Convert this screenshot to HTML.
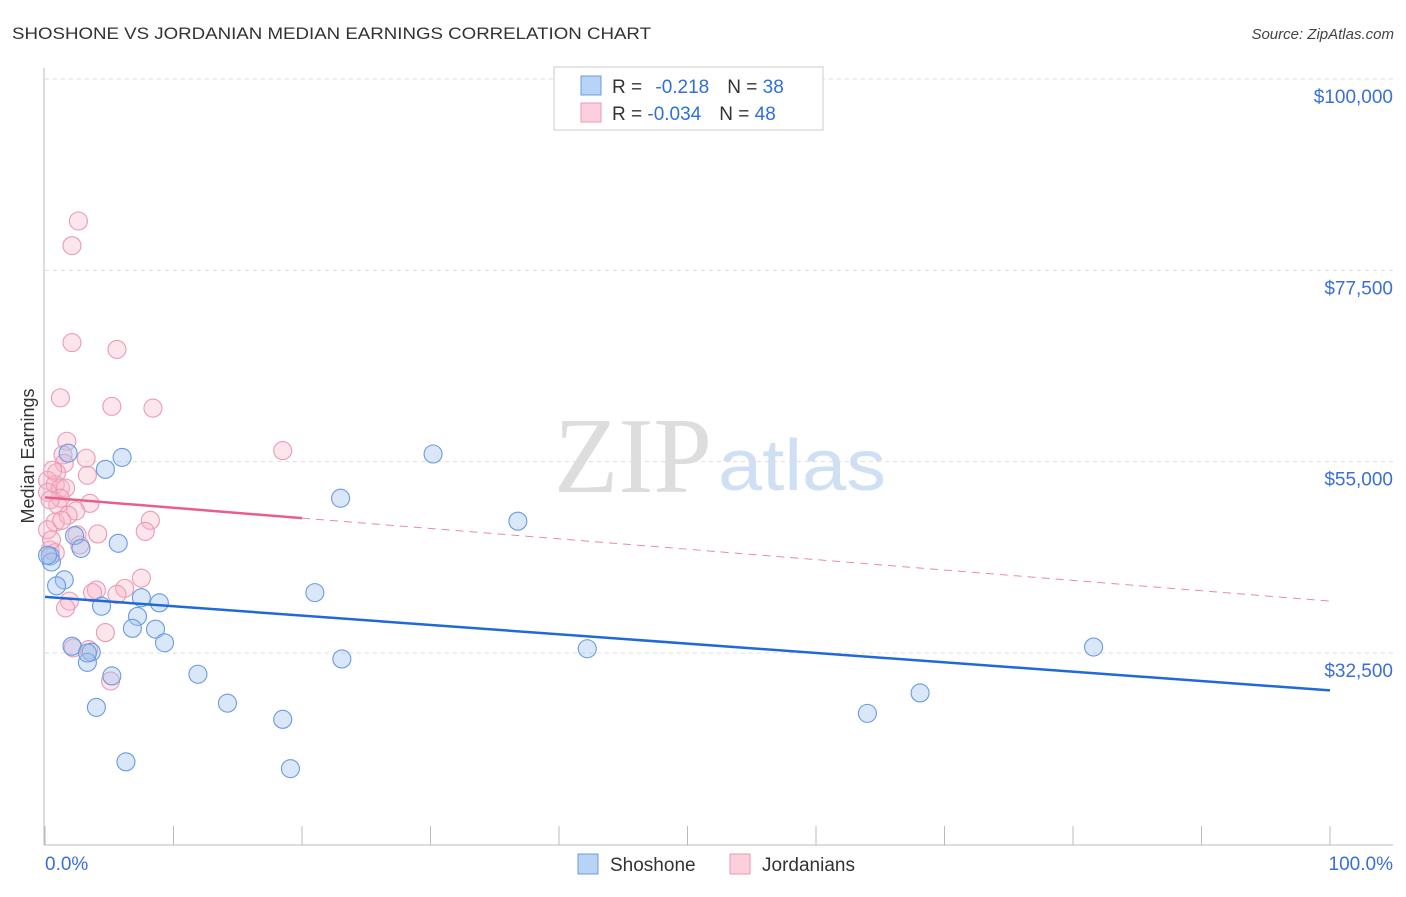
<!DOCTYPE html>
<html><head><meta charset="utf-8"><style>
body{margin:0;background:#fff;font-family:"Liberation Sans",sans-serif;}
svg text{font-family:"Liberation Sans",sans-serif;}
</style></head><body>
<svg id="chart" width="1406" height="892">
<text x="12" y="39" font-size="17" fill="#333" textLength="639" lengthAdjust="spacingAndGlyphs">SHOSHONE VS JORDANIAN MEDIAN EARNINGS CORRELATION CHART</text>
<text x="1394" y="39" font-size="15" fill="#444" text-anchor="end" font-style="italic">Source: ZipAtlas.com</text>
<text x="554" y="492" font-size="108" fill="#ddd" textLength="158" lengthAdjust="spacingAndGlyphs" style="font-family:'Liberation Serif',serif">ZIP</text>
<text x="718" y="490" font-size="72" fill="#cfe0f5" textLength="168" lengthAdjust="spacingAndGlyphs">atlas</text>
<text transform="translate(34,456) rotate(-90)" font-size="18" fill="#333" text-anchor="middle">Median Earnings</text>
<g id="grid"></g><g id="axes"></g><g id="pts"></g><g id="trends"></g>
<g>
<rect x="554" y="67" width="269" height="63" fill="#fff" stroke="#ccc"/>
<rect x="581" y="76" width="20" height="19" fill="#b8d3f5" stroke="#6a9be0"/>
<rect x="581" y="103" width="20" height="19" fill="#fbd0dc" stroke="#ec98b2"/>
<text x="612" y="93" font-size="19" fill="#333">R = <tspan fill="#2f6fdc" dx="8">-0.218</tspan><tspan fill="#333" dx="18">N = </tspan><tspan fill="#2f6fdc">38</tspan></text>
<text x="612" y="120" font-size="19" fill="#333">R = <tspan fill="#2f6fdc">-0.034</tspan><tspan fill="#333" dx="18">N = </tspan><tspan fill="#2f6fdc">48</tspan></text>
</g>
<g>
<rect x="578" y="854" width="20" height="20" fill="#b8d3f5" stroke="#6a9be0"/>
<text x="610" y="871" font-size="19" fill="#333">Shoshone</text>
<rect x="730" y="854" width="20" height="20" fill="#fbd0dc" stroke="#ec98b2"/>
<text x="762" y="871" font-size="19" fill="#333">Jordanians</text>
</g>
</svg>
<script>
const yTicks=[100000,77500,55000,32500];
const yTickLabels=["$100,000","$77,500","$55,000","$32,500"];
const xTickLabels=["0.0%","100.0%"];
const shoX=[1.8,6.0,4.7,30.2,23.0,36.8,2.3,5.7,2.8,0.4,0.5,1.5,0.9,4.4,7.5,8.9,7.2,6.8,8.6,9.3,2.1,3.6,3.3,5.2,11.9,21.0,23.1,42.2,81.6,14.2,4.0,18.5,64.0,68.1,6.3,19.1,0.2,3.3];
const shoY=[56.0,55.5,54.1,55.9,50.7,48.0,46.3,45.4,44.8,43.9,43.2,41.1,40.4,38.0,39.0,38.4,36.8,35.4,35.3,33.7,33.3,32.6,31.4,29.8,30.0,39.6,31.8,33.0,33.2,26.6,26.1,24.7,25.4,27.8,19.7,18.9,44.0,32.5];
const jorX=[2.6,2.1,2.1,5.6,1.2,5.2,8.4,1.7,18.5,1.4,3.2,1.5,0.9,3.3,0.2,0.8,1.2,0.2,1.6,3.5,1.0,2.4,0.8,8.2,7.8,4.1,2.5,0.4,0.8,4.0,3.7,6.2,5.6,7.5,1.9,1.6,4.7,2.2,3.4,5.1,0.2,0.5,1.2,1.8,2.7,0.4,0.6,1.3];
const jorY=[83.3,80.4,69.0,68.2,62.5,61.5,61.3,57.4,56.3,55.8,55.4,54.8,53.7,53.4,52.8,52.3,51.9,51.4,51.9,50.1,49.9,49.2,47.9,48.1,46.8,46.5,46.4,44.6,44.3,39.9,39.6,40.1,39.4,41.3,38.6,37.8,34.9,33.1,32.9,29.2,47.0,45.8,50.7,48.7,45.2,50.5,54.0,48.1];
const shoTrend=[39.1,28.1];
const jorTrend=[50.8,38.6];
const NS="http://www.w3.org/2000/svg";
const X=v=>45+v/100*1285;
const Y=v=>79+(100-v)/22.5*191.33;
function mk(tag,attrs,parent){const e=document.createElementNS(NS,tag);for(const k in attrs)e.setAttribute(k,attrs[k]);document.getElementById(parent).appendChild(e);return e;}
yTicks.forEach((t,i)=>{
 const g=mk('line',{x1:45,x2:1393,y1:Y(t/1000),y2:Y(t/1000),stroke:'#ddd','stroke-dasharray':'4,4'},'grid');
 
 
 const l=mk('text',{x:1393,y:Y(t/1000)+24,'font-size':19,fill:'#3a6fd8','text-anchor':'end'},'grid');
 l.textContent=yTickLabels[i];
 
 
});
mk('line',{x1:44,x2:44,y1:68,y2:845,stroke:'#bbb'},'axes');
mk('line',{x1:44,x2:1393,y1:845,y2:845,stroke:'#bbb'},'axes');
for(let i=0;i<=10;i++){mk('line',{x1:X(i*10),x2:X(i*10),y1:826,y2:845,stroke:'#bbb'},'axes');}
const xl0=mk('text',{x:45,y:870,'font-size':19,fill:'#3a6fd8'},'axes');xl0.textContent=xTickLabels[0];


const xl1=mk('text',{x:1393,y:870,'font-size':19,fill:'#3a6fd8','text-anchor':'end'},'axes');xl1.textContent=xTickLabels[1];


jorX.forEach((x,i)=>{const c=mk('circle',{cx:X(x),cy:Y(jorY[i]),r:9,fill:'rgba(248,180,200,0.35)',stroke:'#eb9ab4','stroke-width':1.1},'pts');
 
 });
shoX.forEach((x,i)=>{const c=mk('circle',{cx:X(x),cy:Y(shoY[i]),r:9,fill:'rgba(160,196,240,0.4)',stroke:'#6a9be0','stroke-width':1.1},'pts');
 
 });
const tb=mk('line',{x1:X(0),y1:Y(shoTrend[0]),x2:X(100),y2:Y(shoTrend[1]),stroke:'#1f6ad8','stroke-width':2.5},'trends');


const jy20=jorTrend[0]+(jorTrend[1]-jorTrend[0])*0.2;
const tp=mk('line',{x1:X(0),y1:Y(jorTrend[0]),x2:X(20),y2:Y(jy20),stroke:'#e8608a','stroke-width':2.5},'trends');


const td=mk('line',{x1:X(20),y1:Y(jy20),x2:X(100),y2:Y(jorTrend[1]),stroke:'#e88aa6','stroke-width':1,'stroke-dasharray':'8,6'},'trends');


</script>
</body></html>
